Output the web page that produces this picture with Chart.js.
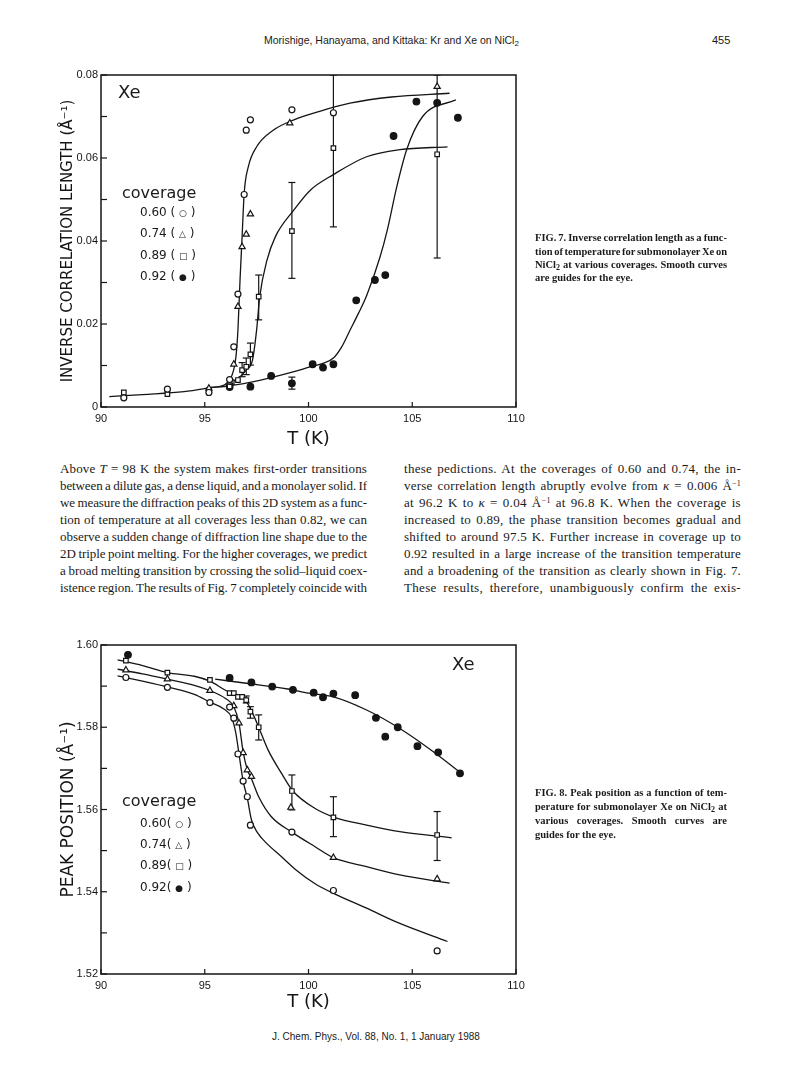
<!DOCTYPE html>
<html>
<head>
<meta charset="utf-8">
<script src="https://cdn.jsdelivr.net/npm/chart.js@4.4.0/dist/chart.umd.min.js"></script>
<style>
body{margin:0;background:#fff;width:787px;height:1080px;position:relative;overflow:hidden;color:#1a1a1a}
.t{position:absolute;white-space:nowrap;line-height:14px}
.body{font-family:"Liberation Serif",serif;font-size:13px}
.cap{font-family:"Liberation Serif",serif;font-size:10.5px;font-weight:bold;line-height:13px}
.sans{font-family:"DejaVu Sans",sans-serif}
.hd{font-family:"Liberation Sans",sans-serif;font-size:10.5px}
canvas{position:absolute}
sup{font-size:8px;line-height:0;vertical-align:4px}
sub{font-size:8px;line-height:0;vertical-align:-2px}
.sym{font-size:9px}
</style>
</head>
<body>

<div class="t hd" style="left:264px;top:33px">Morishige, Hanayama, and Kittaka: Kr and Xe on NiCl<sub>2</sub></div>
<div class="t hd" style="left:712px;top:33px;font-size:11px">455</div>

<canvas id="fig7" width="500" height="400" style="left:40px;top:60px"></canvas>
<canvas id="fig8" width="500" height="390" style="left:40px;top:630px"></canvas>

<!-- texto dentro do grafico 7 -->
<div class="t sans" style="left:118px;top:82px;font-size:18px;line-height:20px">Xe</div>
<div class="t sans" style="left:122px;top:183px;font-size:16px;line-height:20px">coverage</div>
<div class="t sans" style="left:140px;top:205px;font-size:12px">0.60 ( <span class="sym">○</span> )</div>
<div class="t sans" style="left:140px;top:226px;font-size:12px">0.74 ( <span class="sym">△</span> )</div>
<div class="t sans" style="left:140px;top:248px;font-size:12px">0.89 ( <span class="sym">□</span> )</div>
<div class="t sans" style="left:140px;top:269px;font-size:12px">0.92 ( <span class="sym">●</span> )</div>

<div class="t cap j" data-w="192" style="left:535px;top:231px">FIG. 7. Inverse correlation length as a func-</div>
<div class="t cap j" data-w="192" style="left:535px;top:245px">tion of temperature for submonolayer Xe on</div>
<div class="t cap j" data-w="192" style="left:535px;top:258px">NiCl<sub>2</sub> at various coverages. Smooth curves</div>
<div class="t cap" style="left:535px;top:271px">are guides for the eye.</div>

<!-- coluna esquerda -->
<div class="t body j" data-w="307" style="left:60px;top:462px">Above <i>T</i> = 98 K the system makes first-order transitions</div>
<div class="t body j" data-w="307" style="left:60px;top:479px">between a dilute gas, a dense liquid, and a monolayer solid. If</div>
<div class="t body j" data-w="307" style="left:60px;top:496px">we measure the diffraction peaks of this 2D system as a func-</div>
<div class="t body j" data-w="307" style="left:60px;top:513px">tion of temperature at all coverages less than 0.82, we can</div>
<div class="t body j" data-w="307" style="left:60px;top:530px">observe a sudden change of diffraction line shape due to the</div>
<div class="t body j" data-w="307" style="left:60px;top:547px">2D triple point melting. For the higher coverages, we predict</div>
<div class="t body j" data-w="307" style="left:60px;top:564px">a broad melting transition by crossing the solid–liquid coex-</div>
<div class="t body j" data-w="307" style="left:60px;top:581px">istence region. The results of Fig. 7 completely coincide with</div>

<!-- coluna direita -->
<div class="t body j" data-w="337" style="left:404px;top:462px">these pedictions. At the coverages of 0.60 and 0.74, the in-</div>
<div class="t body j" data-w="337" style="left:404px;top:479px">verse correlation length abruptly evolve from <i>κ</i> = 0.006 Å<sup>−1</sup></div>
<div class="t body j" data-w="337" style="left:404px;top:496px">at 96.2 K to <i>κ</i> = 0.04 Å<sup>−1</sup> at 96.8 K. When the coverage is</div>
<div class="t body j" data-w="337" style="left:404px;top:513px">increased to 0.89, the phase transition becomes gradual and</div>
<div class="t body j" data-w="337" style="left:404px;top:530px">shifted to around 97.5 K. Further increase in coverage up to</div>
<div class="t body j" data-w="337" style="left:404px;top:547px">0.92 resulted in a large increase of the transition temperature</div>
<div class="t body j" data-w="337" style="left:404px;top:564px">and a broadening of the transition as clearly shown in Fig. 7.</div>
<div class="t body j" data-w="337" style="left:404px;top:581px">These results, therefore, unambiguously confirm the exis-</div>

<!-- texto dentro do grafico 8 -->
<div class="t sans" style="left:452px;top:654px;font-size:18px;line-height:20px">Xe</div>
<div class="t sans" style="left:122px;top:791px;font-size:16px;line-height:20px">coverage</div>
<div class="t sans" style="left:140px;top:816px;font-size:12px">0.60( <span class="sym">○</span> )</div>
<div class="t sans" style="left:140px;top:837px;font-size:12px">0.74( <span class="sym">△</span> )</div>
<div class="t sans" style="left:140px;top:858px;font-size:12px">0.89( <span class="sym">□</span> )</div>
<div class="t sans" style="left:140px;top:880px;font-size:12px">0.92( <span class="sym">●</span> )</div>

<div class="t cap j" data-w="192" style="left:535px;top:786px">FIG. 8. Peak position as a function of tem-</div>
<div class="t cap j" data-w="192" style="left:535px;top:800px">perature for submonolayer Xe on NiCl<sub>2</sub> at</div>
<div class="t cap j" data-w="192" style="left:535px;top:814px">various coverages. Smooth curves are</div>
<div class="t cap" style="left:535px;top:828px">guides for the eye.</div>

<div class="t hd" style="left:272px;top:1030px;font-size:10px">J. Chem. Phys., Vol. 88, No. 1, 1 January 1988</div>

<script>
// ---------- FIG 7: comprimento de correlacao inverso ----------
var t60 = [91.1, 93.2, 95.2, 96.2, 96.4, 96.6, 96.9, 97.0, 97.2, 99.2, 101.2];
var k60 = [0.0022, 0.0043, 0.0035, 0.0066, 0.0145, 0.0272, 0.0512, 0.0667, 0.0692, 0.0716, 0.0709];

var t74 = [95.2, 96.2, 96.4, 96.6, 96.8, 97.0, 97.2, 99.1, 106.2];
var k74 = [0.0045, 0.0060, 0.0103, 0.0242, 0.0386, 0.0416, 0.0465, 0.0684, 0.0772];

var t89 = [91.1, 93.2, 95.2, 96.2, 96.3, 96.6, 96.8, 97.0, 97.2, 97.6, 99.2, 101.2, 106.2];
var k89 = [0.0035, 0.0031, 0.0040, 0.0050, 0.0060, 0.0065, 0.0089, 0.0097, 0.0127, 0.0266, 0.0424, 0.0624, 0.0609];
var e89T = [96.8, 97.0, 97.2, 97.6, 99.2, 101.2, 106.2];
var e89Lo = [0.0073, 0.0078, 0.0101, 0.0210, 0.0310, 0.0434, 0.0359];
var e89Hi = [0.0107, 0.0118, 0.0154, 0.0318, 0.0541, 0.0800, 0.0800];

var t92 = [96.2, 97.2, 98.2, 99.2, 100.2, 100.7, 101.2, 102.3, 103.2, 103.7, 104.1, 105.2, 106.2, 107.2];
var k92 = [0.0048, 0.0049, 0.0075, 0.0057, 0.0103, 0.0095, 0.0103, 0.0257, 0.0306, 0.0318, 0.0653, 0.0736, 0.0733, 0.0697];
var e92T = [99.2];
var e92Lo = [0.0043];
var e92Hi = [0.0072];

// curvas guia
var cA_T = [90.4, 92.0, 94.0, 95.3, 96.0, 96.3, 96.5, 96.6, 96.7, 96.8, 96.9, 97.1, 97.5, 98.3, 99.3, 100.5, 102.0, 104.0, 106.8];
var cA_k = [0.0025, 0.0030, 0.0037, 0.0047, 0.0055, 0.0075, 0.0120, 0.0186, 0.0306, 0.0410, 0.0515, 0.0579, 0.0627, 0.0667, 0.0692, 0.0712, 0.0732, 0.0747, 0.0756];
var cB_T = [96.0, 96.5, 97.0, 97.3, 97.5, 97.65, 98.0, 98.4, 99.3, 100.1, 101.2, 102.8, 104.4, 106.7];
var cB_k = [0.0055, 0.0065, 0.0089, 0.0113, 0.0186, 0.0266, 0.0354, 0.0410, 0.0475, 0.0523, 0.0560, 0.0603, 0.0620, 0.0627];
var cC_T = [95.3, 96.0, 97.7, 99.3, 100.1, 100.7, 101.2, 101.6, 102.0, 102.4, 102.8, 103.45, 103.8, 104.25, 104.73, 105.5, 107.1];
var cC_k = [0.0047, 0.0050, 0.0065, 0.0085, 0.0097, 0.0105, 0.0118, 0.0145, 0.0185, 0.0225, 0.0268, 0.0362, 0.0427, 0.0530, 0.0620, 0.0700, 0.0740];

// ---------- FIG 8: posicao do pico ----------
var p60T = [91.2, 93.2, 95.25, 96.2, 96.4, 96.6, 96.85, 97.05, 97.2, 99.2, 101.2, 106.2];
var p60 = [1.5921, 1.5897, 1.5860, 1.5849, 1.5822, 1.5735, 1.5669, 1.5631, 1.5562, 1.5545, 1.5403, 1.5256];

var p74T = [91.2, 93.2, 95.25, 96.4, 96.65, 96.85, 97.05, 97.25, 99.15, 101.2, 106.2];
var p74 = [1.5939, 1.5917, 1.5889, 1.5852, 1.5810, 1.5738, 1.5696, 1.5680, 1.5605, 1.5483, 1.5431];

var p89T = [91.2, 93.2, 95.25, 96.2, 96.4, 96.6, 96.8, 97.0, 97.2, 97.6, 99.2, 101.2, 106.2];
var p89 = [1.5962, 1.5933, 1.5915, 1.5883, 1.5883, 1.5874, 1.5874, 1.5866, 1.5838, 1.5800, 1.5645, 1.5581, 1.5538];
var pe89T = [97.0, 97.2, 97.6, 99.2, 101.2, 106.2];
var pe89Lo = [1.5859, 1.5822, 1.5769, 1.5599, 1.5534, 1.5476];
var pe89Hi = [1.5876, 1.5850, 1.5830, 1.5684, 1.5631, 1.5595];

var p92T = [91.3, 96.2, 97.25, 98.25, 99.25, 100.25, 100.7, 101.2, 102.25, 103.25, 103.7, 104.3, 105.25, 106.25, 107.3];
var p92 = [1.5976, 1.5920, 1.5909, 1.5899, 1.5891, 1.5884, 1.5873, 1.5882, 1.5878, 1.5823, 1.5777, 1.5800, 1.5754, 1.5739, 1.5688];

var q60T = [90.8, 92.0, 93.2, 94.5, 95.25, 95.9, 96.3, 96.5, 96.65, 96.85, 97.05, 97.25, 97.55, 97.9, 98.7, 99.4, 100.3, 101.2, 102.8, 104.4, 106.7];
var q60 = [1.5925, 1.5912, 1.5898, 1.5880, 1.5861, 1.5845, 1.5823, 1.5785, 1.5735, 1.5669, 1.5628, 1.5575, 1.5543, 1.5522, 1.5485, 1.5453, 1.5420, 1.5396, 1.5360, 1.5323, 1.5279];
var q74T = [90.8, 92.0, 93.2, 94.5, 95.25, 96.0, 96.4, 96.65, 96.85, 97.05, 97.25, 97.6, 98.2, 99.2, 100.3, 101.2, 102.8, 104.4, 106.8];
var q74 = [1.5941, 1.5930, 1.5917, 1.5902, 1.5889, 1.5870, 1.5850, 1.5810, 1.5740, 1.5697, 1.5675, 1.5631, 1.5583, 1.5545, 1.5510, 1.5483, 1.5461, 1.5441, 1.5421];
var q89T = [90.8, 92.0, 93.2, 94.5, 95.25, 96.0, 96.6, 97.0, 97.3, 97.6, 98.05, 98.7, 99.25, 100.3, 101.25, 102.8, 104.4, 106.9];
var q89 = [1.5964, 1.5950, 1.5933, 1.5924, 1.5912, 1.5890, 1.5876, 1.5863, 1.5835, 1.5800, 1.5745, 1.5688, 1.5645, 1.5603, 1.5581, 1.5562, 1.5546, 1.5531];
var q92T = [95.5, 97.0, 99.0, 100.0, 101.2, 102.8, 104.4, 106.0, 107.46];
var q92 = [1.5917, 1.5907, 1.5893, 1.5883, 1.5874, 1.5842, 1.5797, 1.5741, 1.5684];

var ink = '#151515';

function pts(xs, ys) {
    return xs.map(function (x, i) { return { x: x, y: ys[i] }; });
}
function marks(xs, ys, style, fill, r) {
    return {
        data: pts(xs, ys), showLine: false, pointStyle: style, pointRadius: r,
        pointBackgroundColor: fill, pointBorderColor: ink, pointBorderWidth: 1.2
    };
}
function curve(xs, ys) {
    return {
        data: pts(xs, ys), showLine: true, pointRadius: 0, borderColor: ink,
        borderWidth: 1.3, cubicInterpolationMode: 'monotone', fill: false
    };
}
function errBars(xs, lo, hi) {
    return xs.map(function (x, i) {
        return {
            data: [{ x: x, y: lo[i] }, { x: x, y: hi[i] }], showLine: true,
            pointStyle: 'line', pointRadius: 3.5, pointBorderColor: ink, pointBorderWidth: 1.2,
            borderColor: ink, borderWidth: 1.2
        };
    });
}

// moldura + tracos para dentro
const moldura = {
    id: 'moldura',
    afterDraw(chart) {
        const ctx = chart.ctx, a = chart.chartArea;
        ctx.save();
        ctx.strokeStyle = ink;
        ctx.lineWidth = 1.5;
        ctx.strokeRect(a.left, a.top, a.right - a.left, a.bottom - a.top);
        ctx.lineWidth = 1.2;
        chart.scales.x.ticks.forEach(function (t) {
            const px = chart.scales.x.getPixelForValue(t.value);
            ctx.beginPath(); ctx.moveTo(px, a.bottom); ctx.lineTo(px, a.bottom - 5); ctx.stroke();
        });
        chart.scales.y.ticks.forEach(function (t) {
            const py = chart.scales.y.getPixelForValue(t.value);
            ctx.beginPath(); ctx.moveTo(a.left, py); ctx.lineTo(a.left + 6, py); ctx.stroke();
        });
        ctx.restore();
    }
};

function config(datasets, yOpts, yTitle, yTitleSize, yTitlePad, xHeight, xTitlePad) {
    return {
        type: 'scatter',
        data: { datasets: datasets },
        options: {
            responsive: false,
            animation: false,
            layout: { padding: { left: 0, right: 24, top: 15, bottom: 0 } },
            plugins: { legend: { display: false }, tooltip: { enabled: false } },
            scales: {
                x: {
                    type: 'linear', min: 90, max: 110,
                    grid: { display: false, drawTicks: false }, border: { display: false },
                    ticks: { stepSize: 5, padding: 5, color: ink, font: { family: 'Liberation Sans', size: 11 } },
                    title: { display: true, text: 'T (K)', color: ink, padding: { top: 0, bottom: xTitlePad }, font: { family: 'DejaVu Sans', size: 18 } },
                    afterFit: function (s) { s.height = xHeight; }
                },
                y: Object.assign({
                    type: 'linear',
                    grid: { display: false, drawTicks: false }, border: { display: false },
                    title: { display: true, text: yTitle, color: ink, padding: { top: yTitlePad, bottom: 0 }, font: { family: 'DejaVu Sans', size: yTitleSize } },
                    afterFit: function (s) { s.width = 61; }
                }, yOpts)
            }
        },
        plugins: [moldura]
    };
}

// marcadores primeiro (ficam por cima), curvas por ultimo
var ds7 = [
    marks(t60, k60, 'circle', '#fff', 3),
    marks(t74, k74, 'triangle', '#fff', 3.6),
    marks(t89, k89, 'rect', '#fff', 3.2),
    marks(t92, k92, 'circle', ink, 3.3)
].concat(errBars(e89T, e89Lo, e89Hi), errBars(e92T, e92Lo, e92Hi), [
    curve(cA_T, cA_k),
    curve(cB_T, cB_k),
    curve(cC_T, cC_k)
]);

var y7 = {
    min: 0, max: 0.08,
    ticks: {
        stepSize: 0.01, padding: 3, color: ink, font: { family: 'Liberation Sans', size: 11 },
        callback: function (v) {
            var m = Math.round(v * 1000);
            if (m % 20 !== 0) return '';
            return m === 0 ? '0' : v.toFixed(2);
        }
    }
};

new Chart(document.getElementById('fig7'),
    config(ds7, y7, 'INVERSE CORRELATION LENGTH (Å⁻¹)', 15, 19, 53, 10));

var ds8 = [
    marks(p60T, p60, 'circle', '#fff', 3),
    marks(p74T, p74, 'triangle', '#fff', 3.6),
    marks(p89T, p89, 'rect', '#fff', 3.2),
    marks(p92T, p92, 'circle', ink, 3.3)
].concat(errBars(pe89T, pe89Lo, pe89Hi), [
    curve(q60T, q60),
    curve(q74T, q74),
    curve(q89T, q89),
    curve(q92T, q92)
]);

var y8 = {
    min: 1.52, max: 1.60,
    ticks: {
        stepSize: 0.01, padding: 3, color: ink, font: { family: 'Liberation Sans', size: 11 },
        callback: function (v) {
            var m = Math.round(v * 100);
            if (m % 2 !== 0) return '';
            return v.toFixed(2);
        }
    }
};

new Chart(document.getElementById('fig8'),
    config(ds8, y8, 'PEAK POSITION (Å⁻¹)', 17, 18, 46, 7));

// justificar linhas: metade do ajuste nas letras, metade nos espacos
document.querySelectorAll('.j').forEach(function (el) {
    var w = +el.dataset.w;
    var txt = el.textContent;
    var n = (txt.match(/ /g) || []).length;
    var nat = el.getBoundingClientRect().width;
    var extra = w - nat;
    var ls = el.classList.contains('body') ? extra * 0.5 / txt.length : 0;
    el.style.letterSpacing = ls + 'px';
    var nat2 = el.getBoundingClientRect().width;
    if (n) el.style.wordSpacing = ((w - nat2) / n) + 'px';
});
</script>
</body>
</html>
